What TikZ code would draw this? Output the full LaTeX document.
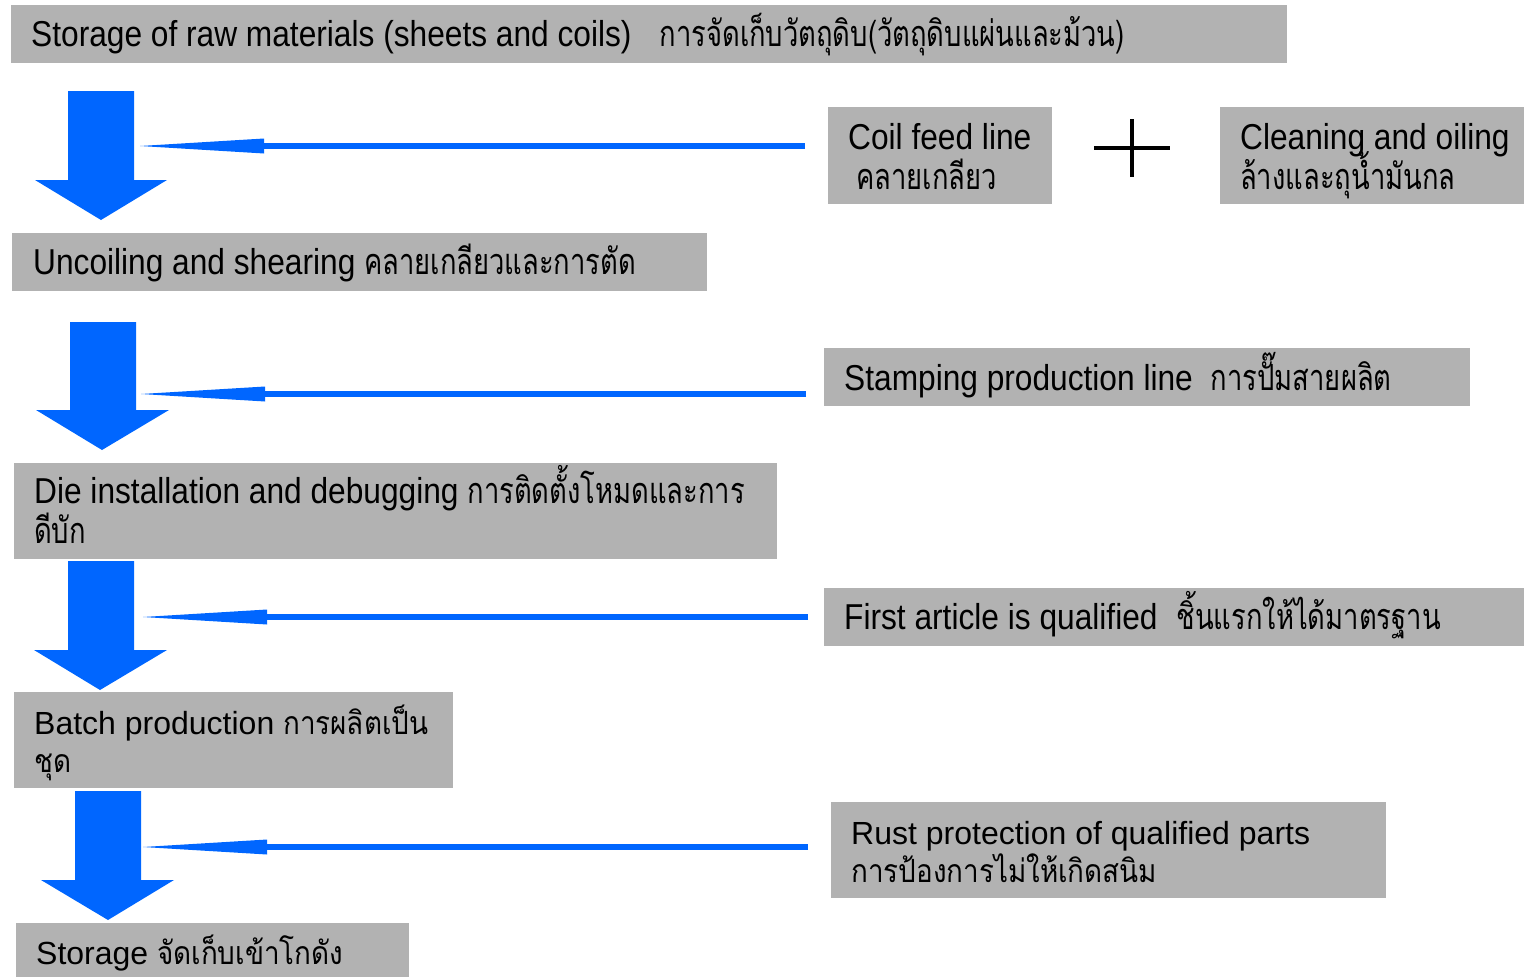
\documentclass[tikz,border=0pt]{standalone}
\usepackage{fontspec}
\setmainfont{Liberation Sans}
\newfontfamily\thai[Script=Thai,FakeStretch=0.87]{Loma}
\newfontfamily\clat[FakeStretch=0.88]{Liberation Sans}
\newfontfamily\cthai[Script=Thai,FakeStretch=0.76]{Loma}
\definecolor{boxgray}{RGB}{178,178,178}
\definecolor{flowblue}{RGB}{0,102,255}
\tikzset{
  panel/.style 2 args={fill=boxgray, draw=none, anchor=north west, inner sep=0pt, minimum width=#1, minimum height=#2},
  lbl/.style={anchor=base west, inner sep=0pt, align=left, text=black, execute at begin node={\lineskiplimit=-100pt}},
  normtxt/.style={font=\fontsize{32pt}{38pt}\selectfont},
  condtxt/.style={font=\fontsize{36pt}{40pt}\selectfont},
  bigarrow/.style={fill=flowblue, draw=none},
  feed/.style={draw=flowblue, line width=6.5pt},
  feedhead/.style={fill=flowblue, draw=none},
  plusmark/.style={draw=black, line width=4pt}
}
\begin{document}
\begin{tikzpicture}[x=1pt,y=-1pt]
\useasboundingbox (0,0) rectangle (1524,977);
% boxes
\node[panel={1276pt}{58pt}] (raw) at (11,5) {};
\node[panel={224pt}{97pt}] (coil) at (828,107) {};
\node[panel={304pt}{97pt}] (clean) at (1220,107) {};
\node[panel={695pt}{58pt}] (uncoil) at (12,233) {};
\node[panel={646pt}{58pt}] (stamp) at (824,348) {};
\node[panel={763pt}{96pt}] (die) at (14,463) {};
\node[panel={700pt}{58pt}] (first) at (824,588) {};
\node[panel={439pt}{96pt}] (batch) at (14,692) {};
\node[panel={555pt}{96pt}] (rust) at (831,802) {};
\node[panel={393pt}{54pt}] (store) at (16,923) {};
% texts (base anchor = baseline of the last line)
\node[lbl,condtxt] (rawT) at (31,46) {\clat Storage of raw materials (sheets and coils)\hspace{28pt}\cthai การจัดเก็บวัตถุดิบ(วัตถุดิบแผ่นและม้วน)};
\node[lbl,condtxt] (coilT) at (848,189) {\clat Coil feed line\\\hspace*{8pt}\cthai คลายเกลียว};
\node[lbl,condtxt] (cleanT) at (1240,189) {\clat Cleaning and oiling\\\cthai ล้างและถุน้ำมันกล};
\node[lbl,condtxt] (uncoilT) at (33,274) {\clat Uncoiling and shearing \cthai คลายเกลียวและการตัด};
\node[lbl,condtxt] (stampT) at (844,390) {\clat Stamping production line\hspace{18pt}\cthai การปั๊มสายผลิต};
\node[lbl,condtxt] (dieT) at (34,543) {\clat Die installation and debugging \cthai การติดตั้งโหมดและการ\\\cthai ดีบัก};
\node[lbl,condtxt] (firstT) at (844,629) {\clat First article is qualified\hspace{19pt}\cthai ชิ้นแรกให้ได้มาตรฐาน};
\node[lbl,normtxt] (batchT) at (34,772) {Batch production \thai การผลิตเป็น\\\thai ชุด};
\node[lbl,normtxt] (rustT) at (851,882) {Rust protection of qualified parts\\\thai การป้องการไม่ให้เกิดสนิม};
\node[lbl,normtxt] (storeT) at (36,964) {Storage \thai จัดเก็บเข้าโกดัง};
% plus sign
\draw[plusmark] (1094,148) -- (1170,148);
\draw[plusmark] (1132,119) -- (1132,177);
% big down arrows
\fill[bigarrow] (68,91) -- (134,91) -- (134,180) -- (167,180) -- (101,220) -- (35,180) -- (68,180) -- cycle;
\fill[bigarrow] (70,322) -- (136,322) -- (136,410) -- (169,410) -- (102,450) -- (36,410) -- (70,410) -- cycle;
\fill[bigarrow] (68,561) -- (134,561) -- (134,650) -- (167,650) -- (100,690) -- (34,650) -- (68,650) -- cycle;
\fill[bigarrow] (75,791) -- (141,791) -- (141,880) -- (174,880) -- (108,920) -- (41,880) -- (75,880) -- cycle;
% feed arrows: line from free end to head base, head filled to tip
\coordinate (f1) at (805,146); \coordinate (b1) at (264,146); \coordinate (t1) at (140,146);
\coordinate (f2) at (806,394); \coordinate (b2) at (265,394); \coordinate (t2) at (141,394);
\coordinate (f3) at (808,617); \coordinate (b3) at (267,617); \coordinate (t3) at (143,617);
\coordinate (f4) at (808,847); \coordinate (b4) at (267,847); \coordinate (t4) at (143,847);
\foreach \i in {1,2,3,4}{
  \draw[feed] (f\i) -- (b\i);
  \fill[feedhead] ([yshift=7.5pt]b\i) -- (t\i) -- ([yshift=-7.5pt]b\i) -- cycle;
}
\end{tikzpicture}
\end{document}
